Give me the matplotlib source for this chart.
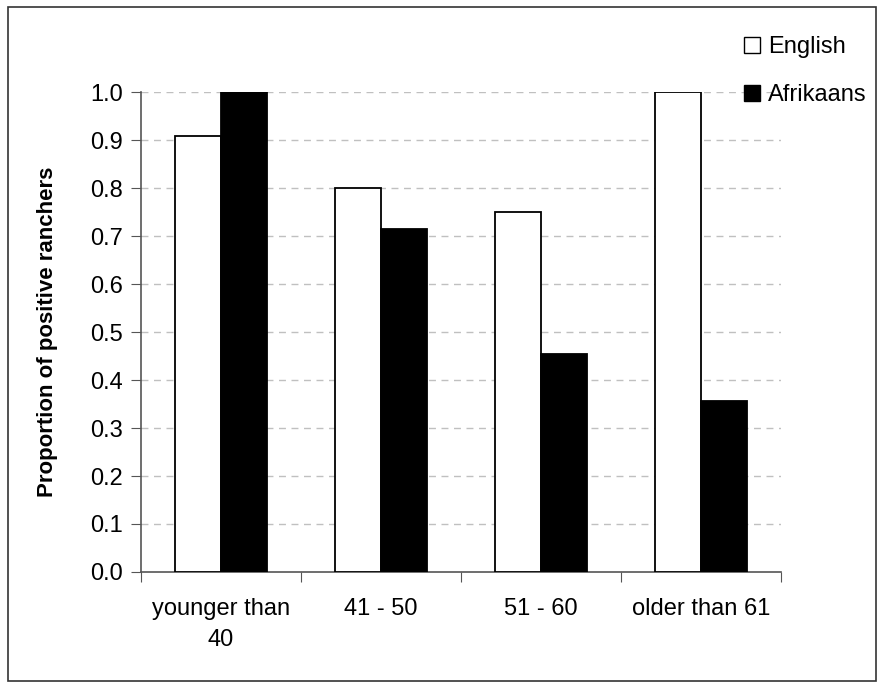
import numpy as np
import matplotlib.pyplot as plt
from matplotlib.lines import Line2D
from matplotlib.patches import Rectangle

plt.rcParams['font.family'] = ['Liberation Sans', 'DejaVu Sans']

groups = ['younger than\n40', '41 - 50', '51 - 60', 'older than 61']
english = [0.909, 0.800, 0.750, 1.000]
afrikaans = [1.000, 0.714, 0.455, 0.357]
yticks = [0.0, 0.1, 0.2, 0.3, 0.4, 0.5, 0.6, 0.7, 0.8, 0.9, 1.0]

fig = plt.figure(figsize=(8.83, 6.86), dpi=100)
ax = fig.add_axes([141/883, 1-572/686, 640/883, 480/686])

x = np.arange(len(groups))
w = 0.29
ax.bar(x - w/2, english, w, color='white', edgecolor='black', linewidth=1.3, zorder=3)
ax.bar(x + w/2, afrikaans, w, color='black', edgecolor='black', linewidth=1.3, zorder=3)

ax.set_xlim(-0.5, len(groups) - 0.5)
ax.set_ylim(0, 1.0)
ax.set_yticks(yticks)
ax.set_yticklabels(['%.1f' % v for v in yticks])
ax.set_xticks(np.arange(len(groups) + 1) - 0.5)
ax.set_xticklabels([])
ax.set_xticks(x, minor=True)
ax.set_xticklabels(groups, minor=True, linespacing=1.5)
ax.tick_params(axis='x', which='minor', length=0, pad=19, labelsize=17)
ax.tick_params(axis='x', which='major', length=7, color='#555555', direction='out')
ax.tick_params(axis='y', length=7, color='#555555', direction='out', labelsize=17, pad=6)

for v in yticks[1:]:
    ax.axhline(v, color='#c0c0c0', linestyle=(0, (5, 4)), linewidth=1, zorder=1)

for s in ['top', 'right']:
    ax.spines[s].set_visible(False)
for s in ['left', 'bottom']:
    ax.spines[s].set_color('#555555')
    ax.spines[s].set_linewidth(1.2)

ax.set_ylabel('Proportion of positive ranchers', fontsize=16, fontweight='bold')
ax.yaxis.set_label_coords(-0.13, 0.5)

handles = [Line2D([], [], marker='s', linestyle='none', markersize=11,
                  markerfacecolor='white', markeredgecolor='black', markeredgewidth=1),
           Line2D([], [], marker='s', linestyle='none', markersize=11,
                  markerfacecolor='black', markeredgecolor='black')]
fig.legend(handles, ['English', 'Afrikaans'], loc='upper left',
           bbox_to_anchor=(733/883, 1-27/686), frameon=False, fontsize=17,
           handlelength=0.8, handletextpad=0.3, labelspacing=1.1, borderaxespad=0)

fig.patches.append(Rectangle((8/883, 5/686), 868/883, 674/686, transform=fig.transFigure,
                             fill=False, edgecolor='#333333', linewidth=1.2))

fig.savefig('out.png', dpi=100)
